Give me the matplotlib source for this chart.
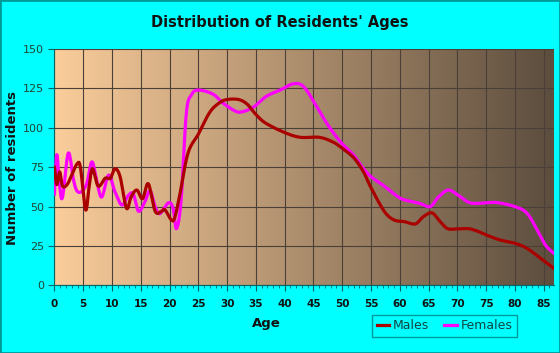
import numpy as np
import matplotlib
matplotlib.use("Agg")
import matplotlib.pyplot as plt
from matplotlib.patches import Rectangle

# values
male_ages = [0, 0.4, 0.9, 1.4, 2.2, 3.0, 3.9, 4.5, 5.4, 6.0, 6.6, 7.6, 8.8, 9.7,
             10.5, 11.4, 12.5, 13.3, 14.3, 15.3, 16.3, 17.5, 18.6, 19.2, 20.3,
             20.9, 21.8, 23.2, 25, 27, 28.7, 30, 32, 33.5, 35, 36.7, 40, 42.7,
             46, 48.4, 50, 52, 53.7, 55, 57.3, 59, 60.7, 62.7, 64.1, 65.6, 67,
             68.3, 70, 71.9, 73.4, 75, 77.4, 80, 82.1, 84.5, 86.7]
males = [75, 64, 72, 63, 64, 70, 77, 75, 48, 62, 74, 63, 68, 68,
         74, 69, 49, 56, 60.5, 55, 64.5, 47, 47, 48, 41.5,
         43, 58, 84, 96, 110, 116, 118, 118, 115, 108.5, 103, 97, 94,
         94, 91, 87, 81, 72, 62, 47, 41.5, 40.5, 39, 43.6, 46, 40.5,
         36, 35.8, 36, 34.5, 32, 28.8, 26.7, 23.5, 17, 11]

female_ages = [0, 0.4, 0.9, 1.4, 2.4, 3.3, 3.9, 4.7, 5.6, 6.5, 7.3, 8.2, 9.4,
               10.5, 11.7, 12.8, 13.7, 14.6, 15.7, 16.6, 17.5, 18.3, 19.8, 20.6,
               21.2, 22, 22.9, 23.8, 25, 27.5, 29.2, 31, 32.3, 34.5, 36.8, 39.2,
               41.5, 43.2, 45, 47.3, 49.6, 51.9, 53.5, 55, 57.3, 60, 61.8, 63.5,
               65.3, 66.7, 68.4, 70, 72.2, 74.9, 76.8, 80, 82.1, 83.9, 85.3, 86.7]
females = [58, 83, 63, 56, 84, 67, 60, 59.5, 64.6, 78.4, 67, 56, 70,
           59.5, 51, 57, 58, 47, 53, 60, 50, 45.5, 52.4, 49,
           36, 54, 109, 121, 124, 121.5, 116, 111.5, 110, 113, 120, 124,
           128, 126.5, 117, 103, 91.5, 83, 75, 69, 63, 55.5, 53.4, 52,
           50, 56, 60.5, 57.6, 52.4, 52.4, 52.6, 50, 45.8, 35, 25.6, 20.5]

xticks = list(range(0, 90, 5))
yticks = [0, 25, 50, 75, 100, 125, 150]


def smooth(xs, ys, n=12):
    # catmull-rom curve through the read points, only for drawing
    x = np.asarray(xs, float)
    y = np.asarray(ys, float)
    xp = np.concatenate([[2 * x[0] - x[1]], x, [2 * x[-1] - x[-2]]])
    yp = np.concatenate([[2 * y[0] - y[1]], y, [2 * y[-1] - y[-2]]])
    out_x, out_y = [], []
    s = np.linspace(0, 1, n, endpoint=False)
    for i in range(1, len(xp) - 2):
        for arr, out in ((xp, out_x), (yp, out_y)):
            p0, p1, p2, p3 = arr[i - 1], arr[i], arr[i + 1], arr[i + 2]
            out.extend(0.5 * (2 * p1 + (-p0 + p2) * s
                              + (2 * p0 - 5 * p1 + 4 * p2 - p3) * s ** 2
                              + (-p0 + 3 * p1 - 3 * p2 + p3) * s ** 3))
    out_x.append(x[-1])
    out_y.append(y[-1])
    return out_x, out_y


fig = plt.figure(figsize=(5.6, 3.53), dpi=100, facecolor="#00FFFF")
fig.patches.append(Rectangle((0, 0), 1, 1, transform=fig.transFigure,
                             fill=False, edgecolor="#009999", linewidth=2))

ax = fig.add_axes([0.0973, 0.1918, 0.892, 0.669])
ax.set_xlim(0, 86.8)
ax.set_ylim(0, 150)

# background gradient, light orange to dark brown
left = np.array([251, 205, 155]) / 255
right = np.array([92, 77, 62]) / 255
t = np.linspace(0, 1, 256)[None, :, None]
grad = left + (right - left) * t
ax.imshow(grad, extent=[0, 1, 0, 1], transform=ax.transAxes,
          aspect="auto", zorder=0)

ax.grid(True, color="#4a4038", linewidth=0.8, zorder=1)
fx, fy = smooth(female_ages, females)
mx, my = smooth(male_ages, males)
ax.plot(fx, fy, color="#FF00FF", linewidth=2.3, zorder=3,
        label="Females", solid_joinstyle="round", clip_on=True)
ax.plot(mx, my, color="#AA0000", linewidth=2.3, zorder=4,
        label="Males", solid_joinstyle="round", clip_on=True)

ax.set_xticks(xticks)
ax.set_xticks(range(0, 87), minor=True)
ax.set_yticks(yticks)
ax.tick_params(axis="x", which="major", length=4, color="#006666",
               labelsize=7.5, labelcolor="#111111", pad=6)
ax.tick_params(axis="x", which="minor", length=2, color="#006666")
ax.tick_params(axis="y", length=4, color="#006666", labelsize=8,
               labelcolor="#224433")
for lab in ax.get_xticklabels():
    lab.set_fontweight("bold")

for side in ["top", "right"]:
    ax.spines[side].set_visible(False)
for side in ["left", "bottom"]:
    ax.spines[side].set_color("#006666")

fig.text(0.5, 0.935, "Distribution of Residents' Ages", ha="center",
         va="center", fontsize=10.5, fontweight="bold", color="#111111")
fig.text(0.475, 0.083, "Age", ha="center", va="center", fontsize=9.5,
         fontweight="bold", color="#111111")
fig.text(0.022, 0.525, "Number of residents", ha="center", va="center",
         rotation=90, fontsize=9.5, fontweight="bold", color="#111111")

handles, labels = ax.get_legend_handles_labels()
leg = fig.legend(handles[::-1], labels[::-1], loc="center",
                 bbox_to_anchor=(0.794, 0.077), ncol=2, fontsize=9,
                 frameon=True, fancybox=False, handlelength=1.0,
                 handletextpad=0.3, columnspacing=1.2, borderpad=0.35)
leg.get_frame().set_facecolor("#00FFFF")
leg.get_frame().set_edgecolor("#008080")
for txt in leg.get_texts():
    txt.set_color("#114444")

fig.savefig("out.png", dpi=100, facecolor=fig.get_facecolor())
